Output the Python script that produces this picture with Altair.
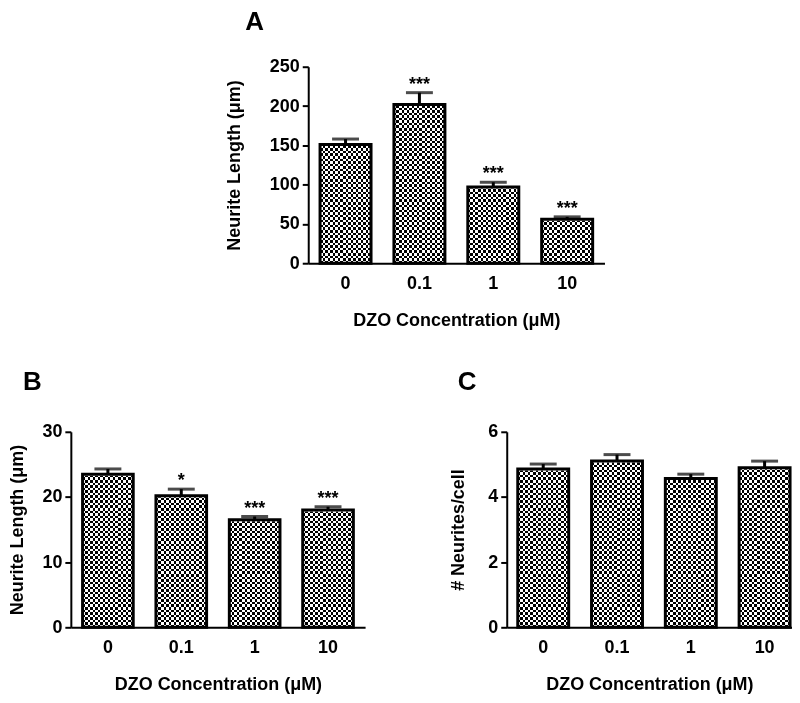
import altair as alt
import pandas as pd

# ---------------- data ----------------
concs = ["0", "0.1", "1", "10"]

a_vals = [151, 202, 97, 56]
a_errs = [7, 15, 6, 3]
a_sig = ["", "***", "***", "***"]

b_vals = [23.5, 20.2, 16.5, 18.0]
b_errs = [0.8, 1.0, 0.5, 0.5]
b_sig = ["", "*", "***", "***"]

c_vals = [4.86, 5.1, 4.57, 4.9]
c_errs = [0.15, 0.2, 0.13, 0.2]
c_sig = ["", "", "", ""]

a_ticks = [0, 50, 100, 150, 200, 250]
b_ticks = [0, 10, 20, 30]
c_ticks = [0, 2, 4, 6]

FONT = "Liberation Sans"
XTITLE = "DZO Concentration (\u03bcM)"


def stripes(n, vertical):
    stops = []
    for i in range(n):
        c = "#000000" if i % 2 == 0 else "#ffffff"
        stops.append({"offset": i / n, "color": c})
        stops.append({"offset": (i + 1) / n, "color": c})
    return {"gradient": "linear", "x1": 0, "y1": 0,
            "x2": 1 if vertical else 0, "y2": 0 if vertical else 1,
            "stops": stops}


def panel(vals, errs, sig, ticks, ytitle, letter, width, height,
          title_pad, pad_outer=0.16, align=0.5, letter_dx=0, offset=28):
    ymax = ticks[-1]
    df = pd.DataFrame({"conc": concs, "value": vals, "err": errs, "sig": sig})
    xenc = alt.X("conc:N", sort=concs,
                 scale=alt.Scale(paddingInner=0.31, paddingOuter=pad_outer, align=align),
                 axis=alt.Axis(title=XTITLE, labelAngle=0, ticks=False, tickSize=0,
                               labelPadding=11, titlePadding=19,
                               labelFont=FONT, labelFontSize=18, labelFontWeight="bold",
                               labelColor="black", titleFont=FONT, titleFontSize=18,
                               titleFontWeight="bold", titleColor="black",
                               domainColor="black", domainWidth=2))
    base = alt.Chart(df).encode(x=xenc).transform_calculate(upper="datum.value + datum.err")
    yscale = alt.Scale(domain=[0, ymax], nice=False, zero=True)
    yaxis = alt.Axis(title=ytitle, values=ticks, grid=False, tickSize=6,
                     tickWidth=2, tickColor="black", labelPadding=3,
                     titlePadding=title_pad, labelOverlap=False,
                     labelFlush=False, labelBound=False,
                     labelFont=FONT, labelFontSize=18, labelFontWeight="bold",
                     labelColor="black", titleFont=FONT, titleFontSize=18,
                     titleFontWeight="bold", titleColor="black",
                     domainColor="black", domainWidth=2)
    n_rows = round(height / 2.55)
    n_cols = 20

    layer_h = base.mark_bar(fill=stripes(n_rows, False)).encode(
        y=alt.Y(datum=ymax, type="quantitative", scale=yscale, axis=yaxis),
        y2=alt.datum(0))
    layer_v = base.mark_bar(fill=stripes(n_cols, True), blend="difference").encode(
        y=alt.Y(datum=ymax, type="quantitative", scale=yscale, axis=yaxis),
        y2=alt.datum(0))
    cover = base.mark_bar(fill="white", stroke="white", strokeWidth=3).encode(
        y=alt.Y("value:Q", scale=yscale, axis=yaxis), y2=alt.datum(ymax))
    outline = base.mark_bar(fillOpacity=0, stroke="black", strokeWidth=3).encode(
        y=alt.Y("value:Q", scale=yscale, axis=yaxis), y2=alt.datum(0))
    stem = base.mark_rule(color="black", strokeWidth=3).encode(
        y=alt.Y("value:Q", scale=yscale, axis=yaxis), y2="upper:Q")
    cap = base.mark_tick(color="black", size=27, thickness=3, orient="horizontal").encode(
        y=alt.Y("upper:Q", scale=yscale, axis=yaxis))
    stars = base.mark_text(baseline="alphabetic", dy=-3, font=FONT, fontSize=18,
                           fontWeight="bold", color="black").encode(
        y=alt.Y("upper:Q", scale=yscale, axis=yaxis), text="sig:N")

    return alt.layer(layer_h, layer_v, cover, outline, stem, cap, stars).properties(
        width=width, height=height,
        title=alt.TitleParams(letter, anchor="start", font=FONT, fontSize=26,
                              fontWeight="bold", color="black", offset=offset, dx=letter_dx))


chart_a = panel(a_vals, a_errs, a_sig, a_ticks, "Neurite Length (\u03bcm)", "A",
                297, 197, 26, letter_dx=20, offset=23)
chart_b = panel(b_vals, b_errs, b_sig, b_ticks, "Neurite Length (\u03bcm)", "B",
                295, 196, 15, letter_dx=14)
chart_c = panel(c_vals, c_errs, c_sig, c_ticks, "# Neurites/cell", "C",
                286, 196, 20, pad_outer=0.088, align=0.85, letter_dx=8)

spacer = alt.Chart(pd.DataFrame({"s": [0]})).mark_point(opacity=0).encode(
    x=alt.value(0), y=alt.value(0)).properties(width=154, height=10)

top = alt.hconcat(spacer, chart_a, spacing=0)
bottom = alt.hconcat(chart_b, chart_c, spacing=84)

chart = alt.vconcat(top, bottom, spacing=40).properties(padding=0).configure_view(
    stroke=None).configure_concat(spacing=0)

chart.save("out.html", embed_options={"renderer": "svg", "actions": False})
